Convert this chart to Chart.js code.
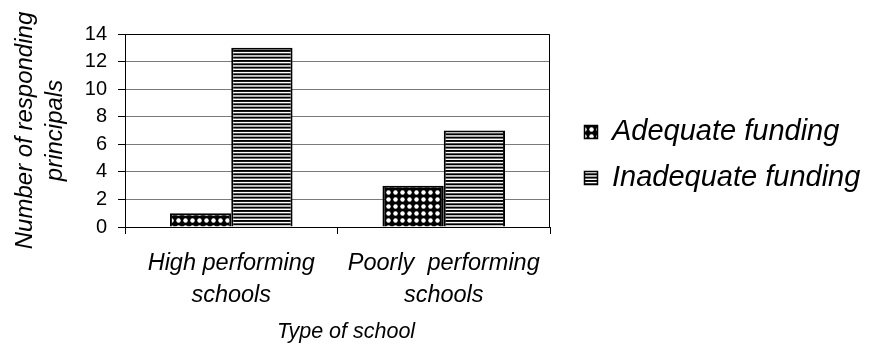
<!DOCTYPE html>
<html>
<head>
<meta charset="utf-8">
<script src="https://cdn.jsdelivr.net/npm/chart.js@4"></script>
<style>
  html, body { margin: 0; padding: 0; background: #fff; }
  #wrap { width: 869px; height: 350px; }
</style>
</head>
<body>
<div id="wrap"><canvas id="chart" width="869" height="350"></canvas></div>
<script>
// Survey of principals: funding adequacy by school type
const categories = [['High performing', 'schools'], ['Poorly  performing', 'schools']];
const seriesNames = ['Adequate funding', 'Inadequate funding'];
const adequateValues = [1, 3];
const inadequateValues = [13, 7];
const yTicks = [0, 2, 4, 6, 8, 10, 12, 14];
const yTitle = ['Number of responding', 'principals'];
const xTitle = 'Type of school';

const FONT = '"Liberation Sans", Arial, Helvetica, sans-serif';

const canvas = document.getElementById('chart');
const ctx = canvas.getContext('2d');

// White dots on a black grid
function dotPattern() {
  const t = document.createElement('canvas');
  t.width = 7; t.height = 7;
  const g = t.getContext('2d');
  g.fillStyle = '#000';
  g.fillRect(0, 0, 7, 7);
  g.fillStyle = '#fff';
  g.beginPath();
  g.arc(3.5, 3.5, 2.25, 0, Math.PI * 2);
  g.fill();
  return ctx.createPattern(t, 'repeat');
}

// Horizontal black stripes
function stripePattern() {
  const t = document.createElement('canvas');
  t.width = 4; t.height = 10;
  const g = t.getContext('2d');
  g.fillStyle = '#fff';
  g.fillRect(0, 0, 4, 10);
  g.fillStyle = '#000';
  [0, 3.33, 6.67].forEach(y => g.fillRect(0, y, 4, 1.9));
  return ctx.createPattern(t, 'repeat');
}

const fills = [dotPattern(), stripePattern()];
const seriesValues = [adequateValues, inadequateValues];

// Black frame around the plot area
const framePlugin = {
  id: 'plotFrame',
  afterDatasetsDraw(chart) {
    const { ctx, chartArea: a } = chart;
    ctx.save();
    ctx.strokeStyle = '#000';
    ctx.lineWidth = 1;
    const l = Math.round(a.left) + 0.5, r = Math.round(a.right) - 0.5;
    const t = Math.round(a.top) + 0.5, b = Math.round(a.bottom) + 0.5;
    ctx.beginPath();
    ctx.moveTo(l, t); ctx.lineTo(r, t); ctx.lineTo(r, b);
    ctx.stroke();
    ctx.restore();
  }
};

// Legend on the right and the category-axis title
const sideLegendPlugin = {
  id: 'sideLegend',
  afterDraw(chart) {
    const { ctx, chartArea: a } = chart;
    ctx.save();
    ctx.font = 'italic 29px ' + FONT;
    ctx.textBaseline = 'middle';
    chart.data.datasets.forEach((ds, i) => {
      const y = 132 + i * 46;
      const bx = a.right + 34;
      ctx.fillStyle = ds.backgroundColor;
      ctx.fillRect(bx, y - 7, 14, 14);
      ctx.strokeStyle = '#000';
      ctx.lineWidth = 1.5;
      ctx.strokeRect(bx + 0.5, y - 6.5, 13, 13);
      ctx.fillStyle = '#000';
      ctx.fillText(ds.label, bx + 28, y);
    });
    ctx.font = 'italic 21.5px ' + FONT;
    ctx.textAlign = 'center';
    ctx.textBaseline = 'alphabetic';
    ctx.fillText(xTitle, (a.left + a.right) / 2 + 8.5, 338);
    ctx.restore();
  }
};

new Chart(ctx, {
  type: 'bar',
  data: {
    labels: categories,
    datasets: seriesNames.map((name, i) => ({
      label: name,
      data: seriesValues[i],
      backgroundColor: fills[i],
      borderColor: '#000',
      borderWidth: 2,
      categoryPercentage: 0.577,
      barPercentage: 1.0
    }))
  },
  options: {
    responsive: false,
    animation: false,
    devicePixelRatio: 1,
    layout: { padding: { left: 0, top: 34, right: 319, bottom: 0 } },
    plugins: {
      legend: { display: false },
      tooltip: { enabled: false }
    },
    scales: {
      x: {
        offset: true,
        grid: { offset: true, drawOnChartArea: false, tickLength: 7, tickColor: '#000', color: '#000' },
        border: { color: '#000', width: 1 },
        ticks: {
          color: '#000',
          font: { family: FONT, size: 23.5, style: 'italic', lineHeight: 1.345 },
          padding: 14,
          maxRotation: 0,
          autoSkip: false
        },
        afterFit(scale) { scale.height = 123; }
      },
      y: {
        min: 0,
        max: 14,
        afterBuildTicks(scale) { scale.ticks = yTicks.map(v => ({ value: v })); },
        grid: { color: '#7a7a7a', lineWidth: 1, tickColor: '#000', tickLength: 7 },
        border: { color: '#000', width: 1 },
        ticks: { color: '#000', font: { family: FONT, size: 20 }, padding: 11 },
        title: {
          display: true,
          text: yTitle,
          color: '#000',
          font: { family: FONT, size: 24, style: 'italic', lineHeight: 1.25 },
          padding: { top: 10, bottom: 0 }
        },
        afterFit(scale) { scale.width = 125; }
      }
    }
  },
  plugins: [framePlugin, sideLegendPlugin]
});
</script>
</body>
</html>
